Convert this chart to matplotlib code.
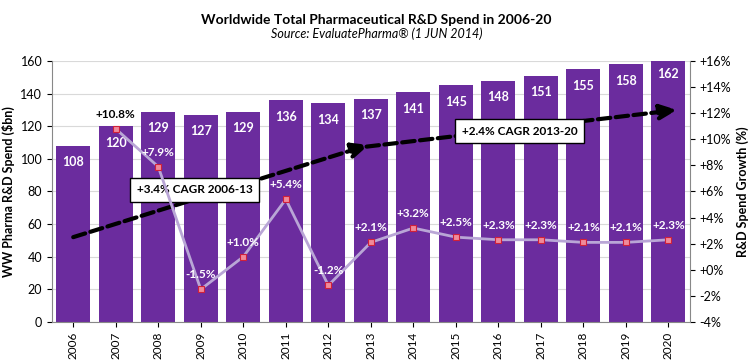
import matplotlib.pyplot as plt

plt.rcParams['font.family'] = ['Lato', 'DejaVu Sans']

years = ['2006', '2007', '2008', '2009', '2010', '2011', '2012', '2013',
         '2014', '2015', '2016', '2017', '2018', '2019', '2020']
spend = [108, 120, 129, 127, 129, 136, 134, 137, 141, 145, 148, 151, 155, 158, 162]
growth = [None, 10.8, 7.9, -1.5, 1.0, 5.4, -1.2, 2.1, 3.2, 2.5, 2.3, 2.3, 2.1, 2.1, 2.3]

# trend arrows (left axis units)
cagr1 = [(0, 52), (6.95, 108.5)]
cagr2 = [(6.9, 107.5), (14.2, 130)]

fig = plt.figure(figsize=(7.53, 3.6), dpi=100)
ax = fig.add_axes([0.069, 0.1056, 0.847, 0.725])
x = list(range(len(years)))

ax.bar(x, spend, width=0.8, color='#6b2c9e', zorder=2)
for i, v in enumerate(spend):
    ax.text(i, v - 6.5, str(v), color='white', fontweight='bold', fontsize=9,
            ha='center', va='top', zorder=5)

ax.set_ylim(0, 160)
ax.set_xlim(-0.5, len(years) - 0.5)
ax.set_yticks(range(0, 161, 20))
ax.set_xticks(x)
ax.set_xticklabels(years, rotation=90, fontsize=8.5)
ax.tick_params(axis='y', labelsize=9)
ax.yaxis.grid(True, color='#d9d9d9', linewidth=0.8, zorder=0)
ax.set_axisbelow(True)
for s in ['top', 'right']:
    ax.spines[s].set_visible(False)
ax.spines['left'].set_color('#888888')
ax.spines['bottom'].set_color('#888888')
ax.set_ylabel('WW Pharma R&D Spend ($bn)', fontweight='bold', fontsize=9)

# trend arrows
for seg in (cagr1, cagr2):
    (x0, y0), (x1, y1) = seg
    ax.annotate('', xy=(x1, y1), xytext=(x0, y0),
                arrowprops=dict(arrowstyle='-|>,head_length=1.0,head_width=0.45',
                                color='black', lw=3, linestyle=(0, (3, 1.3)),
                                shrinkA=0, shrinkB=0), zorder=4)

ax.text(2.86, 81, '+3.4% CAGR 2006-13', fontsize=8.5, fontweight='bold',
        ha='center', va='center', zorder=6,
        bbox=dict(boxstyle='square,pad=0.55', fc='white', ec='black', lw=1))
ax.text(10.5, 117, '+2.4% CAGR 2013-20', fontsize=8.5, fontweight='bold',
        ha='center', va='center', zorder=6,
        bbox=dict(boxstyle='square,pad=0.55', fc='white', ec='black', lw=1))

ax2 = ax.twinx()
ax2.set_position([0.069, 0.1056, 0.847, 0.725])
gx = [i for i, g in enumerate(growth) if g is not None]
gy = [g for g in growth if g is not None]
ax2.plot(gx, gy, color='#b9a6d6', lw=2, marker='s', markersize=4,
         markerfacecolor='#f08a9a', markeredgecolor='#d0203a', markeredgewidth=0.8,
         zorder=3)
for i, g in zip(gx, gy):
    col = 'black' if i == 1 else 'white'
    ax2.text(i, g + 0.7, f'{g:+.1f}%', color=col, fontweight='bold', fontsize=8.5,
             ha='center', va='bottom', zorder=5)
ax2.set_ylim(-4, 16)
ax2.set_yticks(range(-4, 17, 2))
ax2.set_yticklabels([f'{t}%' if t < 0 else f'+{t}%' for t in range(-4, 17, 2)])
ax2.tick_params(axis='y', labelsize=9)
for s in ['top', 'left', 'bottom']:
    ax2.spines[s].set_visible(False)
ax2.spines['right'].set_color('#888888')
ax2.set_ylabel('R&D Spend Growth (%)', fontweight='bold', fontsize=9)

fig.text(0.5, 0.945, 'Worldwide Total Pharmaceutical R&D Spend in 2006-20',
         ha='center', va='center', fontweight='bold', fontsize=10)
fig.text(0.5, 0.905, 'Source: EvaluatePharma® (1 JUN 2014)', ha='center', va='center',
         style='italic', fontsize=9)

fig.savefig('out.png', dpi=100)
